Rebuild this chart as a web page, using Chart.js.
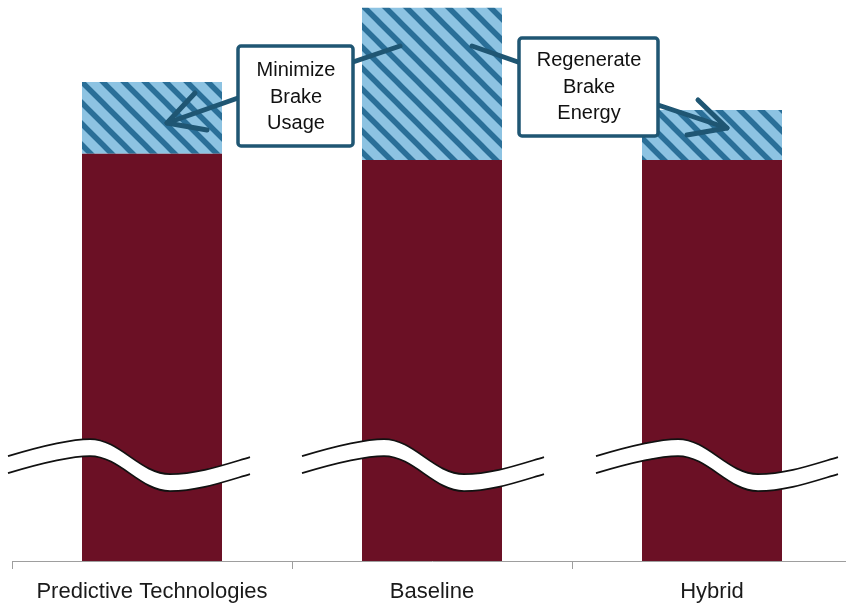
<!DOCTYPE html>
<html>
<head>
<meta charset="utf-8">
<script src="https://cdn.jsdelivr.net/npm/chart.js@4.4.1/dist/chart.umd.min.js"></script>
<style>
  html, body { margin: 0; padding: 0; background: #fff; overflow: hidden; }
  #wrap { width: 852px; height: 608px; }
</style>
</head>
<body>
<div id="wrap"><canvas id="chart" width="852" height="608"></canvas></div>
<script>
const categories  = ['Predictive Technologies', 'Baseline', 'Hybrid'];
const baseEnergy  = [72.6, 71.5, 71.5];   // dark red part (axis is broken)
const brakeEnergy = [12.8, 27.1, 8.9];    // hatched part
const yMax = 100;
const breakAt = 18.7;                     // where the break marks sit

const RED = '#6b1025';
const TEAL = '#1f5673';

function hatch() {
  const c = document.createElement('canvas');
  c.width = 21; c.height = 21;
  const g = c.getContext('2d');
  g.fillStyle = '#8dc3e2';
  g.fillRect(0, 0, 21, 21);
  g.strokeStyle = '#2a6f98';
  g.lineWidth = 5.5;
  g.beginPath();
  [-21, 0, 21].forEach(o => { g.moveTo(o - 5, -5); g.lineTo(o + 26, 26); });
  g.stroke();
  return g.createPattern(c, 'repeat');
}

// break marks: sideways offset of each wave from its bar centre
const waveShift = [-144, -130, -116];

function waveSegs(x0, y0) {
  return [
    [x0 + 30, y0 - 9,  x0 + 60,  y0 - 17, x0 + 82,  y0 - 17],
    [x0 + 112, y0 - 17, x0 + 132, y0 + 18, x0 + 162, y0 + 18],
    [x0 + 190, y0 + 18, x0 + 215, y0 + 9,  x0 + 242, y0 + 1],
  ];
}

const breakPlugin = {
  id: 'breaks',
  afterDatasetsDraw(chart) {
    const { ctx, scales: { x, y } } = chart;
    const yb = y.getPixelForValue(breakAt);
    const gap = 17;
    ctx.save();
    categories.forEach((c, i) => {
      const x0 = x.getPixelForValue(i) + waveShift[i];
      const up = waveSegs(x0, yb);
      const lo = waveSegs(x0, yb + gap);
      // white band
      ctx.beginPath();
      ctx.moveTo(x0, yb);
      up.forEach(s => ctx.bezierCurveTo(...s));
      ctx.lineTo(lo[2][4], lo[2][5]);
      for (let k = 2; k >= 0; k--) {
        const s = lo[k];
        const prev = k > 0 ? [lo[k - 1][4], lo[k - 1][5]] : [x0, yb + gap];
        ctx.bezierCurveTo(s[2], s[3], s[0], s[1], prev[0], prev[1]);
      }
      ctx.closePath();
      ctx.fillStyle = '#fff';
      ctx.fill();
      // outlines
      ctx.strokeStyle = '#111';
      ctx.lineWidth = 1.7;
      [[up, yb], [lo, yb + gap]].forEach(([segs, sy]) => {
        ctx.beginPath();
        ctx.moveTo(x0, sy);
        segs.forEach(s => ctx.bezierCurveTo(...s));
        ctx.stroke();
      });
    });
    ctx.restore();
  }
};

function line(ctx, pts) {
  ctx.beginPath();
  ctx.moveTo(pts[0][0], pts[0][1]);
  pts.slice(1).forEach(p => ctx.lineTo(p[0], p[1]));
  ctx.stroke();
}

function callout(ctx, bx, by, bw, bh, lines, cx, ys) {
  ctx.beginPath();
  ctx.roundRect(bx, by, bw, bh, 3);
  ctx.fillStyle = '#fff';
  ctx.fill();
  ctx.lineWidth = 3.5;
  ctx.strokeStyle = TEAL;
  ctx.stroke();
  ctx.fillStyle = '#111';
  ctx.font = '20px "Liberation Sans", Arial, sans-serif';
  ctx.textAlign = 'center';
  ctx.textBaseline = 'middle';
  lines.forEach((t, i) => ctx.fillText(t, cx, ys[i]));
}

const notePlugin = {
  id: 'notes',
  afterDraw(chart) {
    const ctx = chart.ctx;
    ctx.save();
    ctx.strokeStyle = TEAL;
    ctx.lineWidth = 5;
    ctx.lineCap = 'round';
    ctx.lineJoin = 'round';
    line(ctx, [[353, 62], [400, 46]]);
    line(ctx, [[472, 46], [518, 62]]);
    line(ctx, [[238, 98], [167, 123]]);
    line(ctx, [[195, 93], [167, 123], [207, 130]]);
    line(ctx, [[658, 105], [727, 128]]);
    line(ctx, [[698, 100], [727, 128], [687, 135]]);
    callout(ctx, 238, 46, 115, 100, ['Minimize', 'Brake', 'Usage'], 296, [70, 97, 123]);
    callout(ctx, 519, 38, 139, 98, ['Regenerate', 'Brake', 'Energy'], 589, [60, 87, 113]);
    ctx.restore();
  }
};

new Chart(document.getElementById('chart'), {
  type: 'bar',
  data: {
    labels: categories,
    datasets: [
      { label: 'Base', data: baseEnergy, backgroundColor: RED, borderWidth: 0 },
      { label: 'Brake', data: brakeEnergy, backgroundColor: hatch(), borderWidth: 0 },
    ]
  },
  options: {
    responsive: false,
    animation: false,
    devicePixelRatio: 1,
    layout: { padding: { left: 12, right: 0, top: 0, bottom: 0 } },
    datasets: { bar: { categoryPercentage: 1, barPercentage: 0.5 } },
    plugins: { legend: { display: false }, tooltip: { enabled: false } },
    scales: {
      x: {
        stacked: true,
        afterFit(scale) { scale.height = 47; },
        grid: { offset: true, drawOnChartArea: false, drawTicks: true, tickLength: 8, color: '#9e9e9e' },
        border: { display: true, color: '#9e9e9e', width: 1 },
        ticks: { color: '#1a1a1a', padding: 10, font: { family: '"Liberation Sans", Arial, sans-serif', size: 22 } }
      },
      y: { stacked: true, display: false, min: 0, max: yMax }
    }
  },
  plugins: [breakPlugin, notePlugin]
});
</script>
</body>
</html>
